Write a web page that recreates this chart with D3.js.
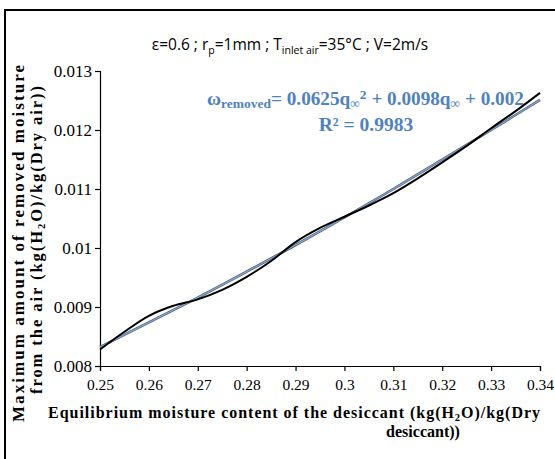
<!DOCTYPE html>
<html><head><meta charset="utf-8">
<script src="https://cdn.jsdelivr.net/npm/d3@7/dist/d3.min.js"></script>
<style>body{margin:0;background:#fff}svg{display:block}</style>
</head><body>
<script>
// Data
const qValues = [0.25,0.255,0.26,0.265,0.27,0.275,0.28,0.285,0.29,0.295,0.30,0.305,0.31,0.315,0.32,0.325,0.33,0.335,0.34];
const omegaRemoved = [0.00828,0.00858,0.00885,0.00902,0.00913,0.00929,0.00951,0.00978,0.01010,0.01034,0.01053,0.01072,0.01093,0.01118,0.01145,0.01173,0.01203,0.01232,0.01263];
const qTrend = [0.25,0.26,0.27,0.28,0.29,0.30,0.31,0.32,0.33,0.34];
const omegaTrend = [0.00832,0.00874,0.00916,0.00960,0.01005,0.01052,0.01100,0.01150,0.01200,0.01251];
const xTicks = [0.25,0.26,0.27,0.28,0.29,0.30,0.31,0.32,0.33,0.34];
const yTicks = [0.008,0.009,0.010,0.011,0.012,0.013];
const xTickLabels = ["0.25","0.26","0.27","0.28","0.29","0.3","0.31","0.32","0.33","0.34"];
const yTickLabels = ["0.008","0.009","0.01","0.011","0.012","0.013"];

const W=555,H=459;
const svg=d3.select("body").append("svg").attr("width",W).attr("height",H);
svg.append("rect").attr("x",5).attr("y",10).attr("width",W+10).attr("height",H+10)
  .attr("fill","#fff").attr("stroke","#000").attr("stroke-width",2);

const x=d3.scaleLinear().domain([0.25,0.34]).range([100,540]);
const y=d3.scaleLinear().domain([0.008,0.013]).range([366,71]);
const serif="Liberation Serif, Times New Roman, serif";

// axes
const gx=svg.append("g").attr("transform","translate(0,366)")
  .call(d3.axisBottom(x).tickValues(xTicks).tickSize(5).tickFormat((d,i)=>xTickLabels[i]));
const gy=svg.append("g").attr("transform","translate(100,0)")
  .call(d3.axisLeft(y).tickValues(yTicks).tickSize(5).tickFormat((d,i)=>yTickLabels[i]));
[gx,gy].forEach(g=>{
  g.attr("font-family",null).attr("font-size",null);
  g.select(".domain").attr("stroke","#000").attr("stroke-width",1.2);
  g.selectAll(".tick line").attr("stroke","#000").attr("stroke-width",1.2);
  g.selectAll(".tick text").attr("fill","#000").style("font-family",serif);
});
gx.selectAll(".tick text").style("font-size","15.5px").attr("y",10).attr("dy","0.9em");
gy.selectAll(".tick text").style("font-size","17px").attr("x",-8);

// lines
const lineData=qValues.map((q,i)=>[q,omegaRemoved[i]]);
const trendData=qTrend.map((q,i)=>[q,omegaTrend[i]]);
const line=d3.line().x(d=>x(d[0])).y(d=>y(d[1])).curve(d3.curveCatmullRom);
svg.append("path").datum(trendData).attr("d",line).attr("fill","none")
  .attr("stroke","#555").attr("stroke-width",2.6);
svg.append("path").datum(trendData).attr("d",line).attr("fill","none")
  .attr("stroke","#7aa6dc").attr("stroke-width",1.3);
svg.append("path").datum(lineData).attr("d",line).attr("fill","none")
  .attr("stroke","#000").attr("stroke-width",2);

// title
const t=svg.append("text").attr("x",290).attr("y",50).attr("text-anchor","middle")
  .attr("font-family","'Open Sans','Noto Sans',sans-serif").attr("font-size",15.5).attr("fill","#000");
t.append("tspan").text("ε=0.6 ; r");
t.append("tspan").attr("font-size",10.5).attr("dy",4).text("p");
t.append("tspan").attr("dy",-4).text("=1mm ; T");
t.append("tspan").attr("font-size",10.5).attr("dy",4).text("inlet air");
t.append("tspan").attr("dy",-4).text("=35°C ; V=2m/s");

// equation
const blue="#4f81bd";
const e=svg.append("text").attr("x",207).attr("y",105).attr("font-family",serif)
  .attr("font-weight","bold").attr("font-size",19.2).attr("fill",blue);
e.append("tspan").text("ω");
e.append("tspan").attr("font-size",13.5).attr("dy",3).text("removed");
e.append("tspan").attr("dy",-3).text("= 0.0625q");
e.append("tspan").attr("font-size",13.5).attr("dy",3).text("∞");
e.append("tspan").attr("font-size",13.5).attr("dy",-9).text("2");
e.append("tspan").attr("dy",6).text(" + 0.0098q");
e.append("tspan").attr("font-size",13.5).attr("dy",3).text("∞");
e.append("tspan").attr("dy",-3).text(" + 0.002");
svg.append("text").attr("x",366).attr("y",131).attr("text-anchor","middle")
  .attr("font-family",serif).attr("font-weight","bold").attr("font-size",19.5).attr("fill",blue)
  .text("R² = 0.9983");

// x axis title
const xt1=svg.append("text").attr("x",48).attr("y",418).attr("font-family",serif)
  .attr("font-weight","bold").attr("font-size",16).attr("fill","#000")
  .attr("textLength",492).attr("lengthAdjust","spacing");
xt1.append("tspan").text("Equilibrium  moisture  content of the desiccant (kg(H");
xt1.append("tspan").attr("font-size",10.5).attr("dy",3).text("2");
xt1.append("tspan").attr("dy",-3).text("O)/kg(Dry");
svg.append("text").attr("x",423).attr("y",437).attr("text-anchor","middle").attr("font-family",serif)
  .attr("font-weight","bold").attr("font-size",16).attr("fill","#000").text("desiccant))");

// y axis title
const yt=svg.append("g").attr("transform","translate(0,244) rotate(-90)");
yt.append("text").attr("x",-178).attr("y",24).attr("font-family",serif)
  .attr("font-weight","bold").attr("font-size",17).attr("fill","#000")
  .attr("textLength",357).attr("lengthAdjust","spacing")
  .text("Maximum  amount of removed moisture");
const yt2=yt.append("text").attr("x",-150).attr("y",42).attr("font-family",serif)
  .attr("font-weight","bold").attr("font-size",16.5).attr("fill","#000")
  .attr("textLength",308).attr("lengthAdjust","spacing");
yt2.append("tspan").text("from the air  (kg(H");
yt2.append("tspan").attr("font-size",10.5).attr("dy",3).text("2");
yt2.append("tspan").attr("dy",-3).text("O)/kg(Dry air))");
</script>
</body></html>
